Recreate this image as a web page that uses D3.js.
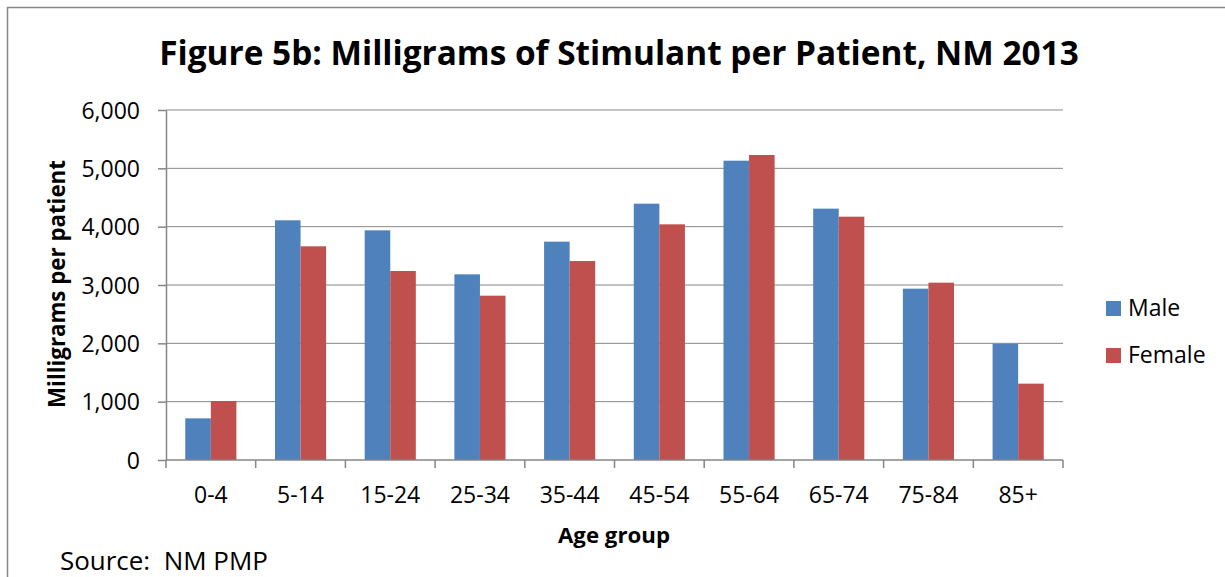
<!DOCTYPE html>
<html>
<head>
<meta charset="utf-8">
<script src="https://cdn.jsdelivr.net/npm/d3@7"></script>
<style>
  body { margin: 0; background: #fff; }
  svg { display: block; font-family: "Open Sans", sans-serif; }
</style>
</head>
<body>
<svg id="chart" width="1225" height="577"></svg>
<script>
// data
var ageGroups = ["0-4", "5-14", "15-24", "25-34", "35-44", "45-54", "55-64", "65-74", "75-84", "85+"];
var male   = [714, 4109, 3937, 3183, 3743, 4394, 5131, 4309, 2937, 1994];
var female = [1011, 3663, 3240, 2817, 3411, 4040, 5229, 4171, 3040, 1309];
var seriesNames = ["Male", "Female"];
var yTicks = [0, 1000, 2000, 3000, 4000, 5000, 6000];

var colors = { Male: "#4F81BD", Female: "#C0504D" };
var gridColor = "#868686";

var svg = d3.select("#chart");
var margin = { left: 166, right: 162, top: 110, bottom: 117 };
var width = 1225 - margin.left - margin.right,
    height = 577 - margin.top - margin.bottom;

// shrink/grow a text node so it spans a given width (Calibri stand-in)
function fitWidth(sel, size, target) {
  var w = sel.node().getComputedTextLength();
  sel.style("font-size", (size * target / w) + "px");
}

// outer chart frame
svg.append("rect")
  .attr("x", 7.5).attr("y", 7.5)
  .attr("width", 1240).attr("height", 600)
  .attr("fill", "none").attr("stroke", gridColor).attr("stroke-width", 1.5);

var g = svg.append("g").attr("transform", "translate(" + margin.left + "," + margin.top + ")");

var x = d3.scaleBand().domain(ageGroups).range([0, width]).paddingInner(0.43).paddingOuter(0.215);
var x0 = d3.scaleBand().domain(ageGroups).range([0, width]);
var xs = d3.scaleBand().domain(seriesNames).range([0, x.bandwidth()]);
var y = d3.scaleLinear().domain([0, 6000]).range([height, 0]);

// gridlines
g.append("g")
  .selectAll("line")
  .data(yTicks.filter(function(d) { return d > 0; }))
  .join("line")
  .attr("x1", 0).attr("x2", width)
  .attr("y1", function(d) { return y(d); }).attr("y2", function(d) { return y(d); })
  .attr("stroke", gridColor).attr("stroke-width", 1);

// bars
var rows = ageGroups.map(function(a, i) { return { age: a, Male: male[i], Female: female[i] }; });
g.append("g")
  .selectAll("g")
  .data(rows)
  .join("g")
  .attr("transform", function(d) { return "translate(" + x(d.age) + ",0)"; })
  .selectAll("rect")
  .data(function(d) { return seriesNames.map(function(s) { return { s: s, v: d[s] }; }); })
  .join("rect")
  .attr("x", function(d) { return xs(d.s); })
  .attr("width", xs.bandwidth())
  .attr("y", function(d) { return y(d.v); })
  .attr("height", function(d) { return height - y(d.v); })
  .attr("fill", function(d) { return colors[d.s]; });

// y axis
var yAxis = g.append("g")
  .call(d3.axisLeft(y).tickValues(yTicks).tickFormat(d3.format(",")).tickSize(8).tickSizeOuter(0));
yAxis.select(".domain").attr("stroke", gridColor).attr("stroke-width", 1.5);
yAxis.selectAll(".tick line").attr("stroke", gridColor).attr("stroke-width", 1.5);
yAxis.selectAll(".tick text")
  .attr("x", -26).attr("dy", "0.36em")
  .attr("fill", "#000").style("font-size", "23px").style("font-family", "Open Sans");

// x axis: ticks at category boundaries
var xAxis = g.append("g").attr("transform", "translate(0," + height + ")");
xAxis.append("line").attr("x1", 0).attr("x2", width).attr("stroke", gridColor).attr("stroke-width", 1.5);
xAxis.selectAll(".bt")
  .data(ageGroups.concat(["end"]))
  .join("line")
  .attr("class", "bt")
  .attr("x1", function(d, i) { return i * x0.step(); })
  .attr("x2", function(d, i) { return i * x0.step(); })
  .attr("y1", 0).attr("y2", 8)
  .attr("stroke", gridColor).attr("stroke-width", 1.5);
xAxis.selectAll(".lbl")
  .data(ageGroups)
  .join("text")
  .attr("class", "lbl")
  .attr("x", function(d) { return x0(d) + x0.bandwidth() / 2; })
  .attr("y", 43)
  .attr("text-anchor", "middle")
  .style("font-size", "23px")
  .text(function(d) { return d; });

// title
var title = svg.append("text")
  .attr("x", 619).attr("y", 65)
  .attr("text-anchor", "middle")
  .style("font-size", "32px").style("font-weight", "bold")
  .text("Figure 5b: Milligrams of Stimulant per Patient, NM 2013");
fitWidth(title, 32, 920);

// axis titles
var yTitle = svg.append("text")
  .attr("transform", "translate(65,284) rotate(-90)")
  .attr("text-anchor", "middle")
  .style("font-size", "22px").style("font-weight", "bold")
  .text("Milligrams per patient");
fitWidth(yTitle, 22, 248);

var xTitle = svg.append("text")
  .attr("x", 614).attr("y", 543)
  .attr("text-anchor", "middle")
  .style("font-size", "22px").style("font-weight", "bold")
  .text("Age group");
fitWidth(xTitle, 22, 112);

var source = svg.append("text")
  .attr("x", 60).attr("y", 570)
  .style("font-size", "23px")
  .style("white-space", "pre")
  .text("Source:  NM PMP");
fitWidth(source, 23, 208);

// legend
var legend = svg.append("g").attr("transform", "translate(1106,301)");
var li = legend.selectAll("g")
  .data(seriesNames)
  .join("g")
  .attr("transform", function(d, i) { return "translate(0," + (i * 47) + ")"; });
li.append("rect").attr("width", 15).attr("height", 15)
  .attr("fill", function(d) { return colors[d]; });
li.append("text").attr("x", 22).attr("y", 15)
  .style("font-size", "23px")
  .text(function(d) { return d; });
</script>
</body>
</html>
